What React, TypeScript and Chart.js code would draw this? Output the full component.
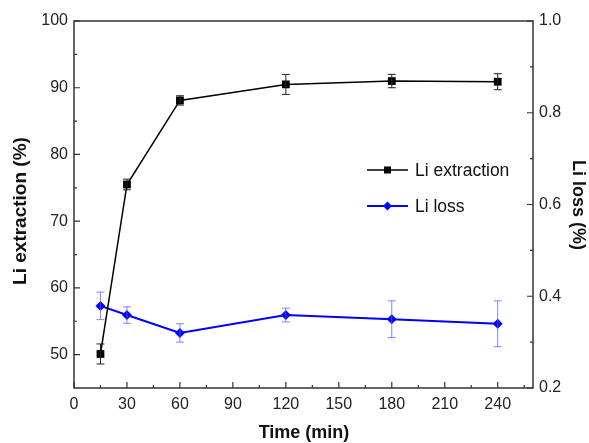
import { useEffect, useRef } from "react";
import { Chart, registerables } from "chart.js";
Chart.register(...registerables);

const timeMin = [15, 30, 60, 120, 180, 240];
const liExtraction = [50.1, 75.5, 88.1, 90.5, 91.0, 90.9];
const liExtractionErr = [1.5, 0.8, 0.7, 1.5, 1.0, 1.2];
const liLoss = [0.379, 0.359, 0.32, 0.359, 0.35, 0.34];
const liLossErr = [0.03, 0.018, 0.02, 0.015, 0.04, 0.05];

const xTicks = [0, 30, 60, 90, 120, 150, 180, 210, 240];
const xMinorTicks = [15, 45, 75, 105, 135, 165, 195, 225, 255];
const leftTicks = [50, 60, 70, 80, 90, 100];
const leftMinorTicks = [55, 65, 75, 85, 95];
const rightTicks = [0.2, 0.4, 0.6, 0.8, 1.0];
const rightMinorTicks = [0.3, 0.5, 0.7, 0.9];

const FONT = "'Liberation Sans', Arial, sans-serif";
const AXIS_COLOR = "#333";

const customPlugin = {
  id: "custom",
  afterDatasetsDraw(chart: any) {
    const ctx = chart.ctx;
    const x = chart.scales.x;
    const yl = chart.scales.y;
    const yr = chart.scales.y1;
    const drawErr = (vals: number[], errs: number[], scale: any, color: string, w: number) => {
      ctx.save();
      ctx.strokeStyle = color;
      ctx.lineWidth = w;
      vals.forEach((v, i) => {
        const px = x.getPixelForValue(timeMin[i]);
        const top = scale.getPixelForValue(v + errs[i]);
        const bot = scale.getPixelForValue(v - errs[i]);
        ctx.beginPath();
        ctx.moveTo(px, top);
        ctx.lineTo(px, bot);
        ctx.moveTo(px - 4, top);
        ctx.lineTo(px + 4, top);
        ctx.moveTo(px - 4, bot);
        ctx.lineTo(px + 4, bot);
        ctx.stroke();
      });
      ctx.restore();
    };
    drawErr(liExtraction, liExtractionErr, yl, "#222", 1);
    drawErr(liLoss, liLossErr, yr, "rgba(90,90,255,0.75)", 1);
  },
  afterDraw(chart: any) {
    const ctx = chart.ctx;
    const a = chart.chartArea;
    const x = chart.scales.x;
    const yl = chart.scales.y;
    const yr = chart.scales.y1;
    ctx.save();
    ctx.strokeStyle = AXIS_COLOR;
    ctx.lineWidth = 1.5;
    ctx.strokeRect(a.left, a.top, a.right - a.left, a.bottom - a.top);
    ctx.lineWidth = 1.2;
    ctx.beginPath();
    const tick = (list: number[], len: number) => {
      list.forEach((v) => {
        const px = x.getPixelForValue(v);
        ctx.moveTo(px, a.bottom);
        ctx.lineTo(px, a.bottom - len);
      });
    };
    tick(xTicks, 6);
    tick(xMinorTicks, 3);
    const ltick = (list: number[], len: number) => {
      list.forEach((v) => {
        const py = yl.getPixelForValue(v);
        ctx.moveTo(a.left, py);
        ctx.lineTo(a.left + len, py);
      });
    };
    ltick(leftTicks, 6);
    ltick(leftMinorTicks, 3);
    const rtick = (list: number[], len: number) => {
      list.forEach((v) => {
        const py = yr.getPixelForValue(v);
        ctx.moveTo(a.right, py);
        ctx.lineTo(a.right - len, py);
      });
    };
    rtick(rightTicks, 6);
    rtick(rightMinorTicks, 3);
    ctx.stroke();

    ctx.fillStyle = "#111";
    ctx.textAlign = "center";
    ctx.textBaseline = "middle";
    ctx.font = `bold 18px ${FONT}`;
    ctx.fillText("Time (min)", 304, 433);
    ctx.save();
    ctx.translate(21, 211);
    ctx.rotate(-Math.PI / 2);
    ctx.font = `bold 19px ${FONT}`;
    ctx.fillText("Li extraction (%)", 0, 0);
    ctx.restore();
    ctx.save();
    ctx.translate(578, 205);
    ctx.rotate(Math.PI / 2);
    ctx.font = `bold 18px ${FONT}`;
    ctx.fillText("Li loss (%)", 0, 0);
    ctx.restore();

    ctx.textAlign = "left";
    ctx.font = `17.5px ${FONT}`;
    const items = [
      { label: "Li extraction", color: "#000", y: 170, shape: "rect" },
      { label: "Li loss", color: "#0000ff", y: 206, shape: "diamond" },
    ];
    items.forEach((it) => {
      ctx.strokeStyle = it.color;
      ctx.lineWidth = it.shape === "rect" ? 1.5 : 2;
      ctx.beginPath();
      ctx.moveTo(367, it.y);
      ctx.lineTo(408, it.y);
      ctx.stroke();
      ctx.fillStyle = it.color;
      if (it.shape === "rect") {
        ctx.fillRect(384, it.y - 3.5, 7, 7);
      } else {
        ctx.beginPath();
        ctx.moveTo(387.5, it.y - 4.5);
        ctx.lineTo(392, it.y);
        ctx.lineTo(387.5, it.y + 4.5);
        ctx.lineTo(383, it.y);
        ctx.closePath();
        ctx.fill();
      }
      ctx.fillStyle = "#111";
      ctx.fillText(it.label, 415, it.y + 1);
    });
    ctx.restore();
  },
};

export default function App() {
  const ref = useRef<HTMLCanvasElement>(null);
  useEffect(() => {
    if (!ref.current) return;
    const tickFont = { family: FONT, size: 16 };
    const chart = new Chart(ref.current, {
      type: "scatter",
      data: {
        datasets: [
          {
            label: "Li extraction",
            data: timeMin.map((t, i) => ({ x: t, y: liExtraction[i] })),
            yAxisID: "y",
            showLine: true,
            borderColor: "#000",
            backgroundColor: "#000",
            borderWidth: 1.5,
            pointStyle: "rect",
            pointRadius: 5.5,
            pointBorderWidth: 0,
          },
          {
            label: "Li loss",
            data: timeMin.map((t, i) => ({ x: t, y: liLoss[i] })),
            yAxisID: "y1",
            showLine: true,
            borderColor: "#0000ff",
            backgroundColor: "#0000ff",
            borderWidth: 2,
            pointStyle: "rectRot",
            pointRadius: 5,
            pointBorderWidth: 0,
          },
        ],
      },
      options: {
        animation: false,
        responsive: false,
        devicePixelRatio: 1,
        layout: { padding: { top: 21, left: 0, right: 0, bottom: 0 } },
        plugins: { legend: { display: false }, tooltip: { enabled: false } },
        scales: {
          x: {
            type: "linear",
            min: 0,
            max: 260,
            grid: { display: false, drawTicks: false },
            border: { display: false },
            afterBuildTicks: (s: any) => {
              s.ticks = xTicks.map((v) => ({ value: v }));
            },
            afterFit: (s: any) => {
              s.height = 55;
            },
            ticks: { font: tickFont, color: "#222", padding: 7, maxRotation: 0, autoSkip: false },
          },
          y: {
            type: "linear",
            position: "left",
            min: 45,
            max: 100,
            grid: { display: false, drawTicks: false },
            border: { display: false },
            afterBuildTicks: (s: any) => {
              s.ticks = leftTicks.map((v) => ({ value: v }));
            },
            afterFit: (s: any) => {
              s.width = 74;
            },
            ticks: { font: tickFont, color: "#222", padding: 6, autoSkip: false },
          },
          y1: {
            type: "linear",
            position: "right",
            min: 0.2,
            max: 1.0,
            grid: { display: false, drawTicks: false },
            border: { display: false },
            afterBuildTicks: (s: any) => {
              s.ticks = rightTicks.map((v) => ({ value: v }));
            },
            afterFit: (s: any) => {
              s.width = 56;
            },
            ticks: {
              font: tickFont,
              color: "#222",
              padding: 6,
              autoSkip: false,
              callback: (v: any) => Number(v).toFixed(1),
            },
          },
        },
      },
      plugins: [customPlugin],
    });
    return () => chart.destroy();
  }, []);
  return (
    <div style={{ position: "absolute", left: 0, top: 0, width: 589, height: 443, background: "#fff" }}>
      <canvas ref={ref} width={589} height={443} style={{ display: "block" }} />
    </div>
  );
}
